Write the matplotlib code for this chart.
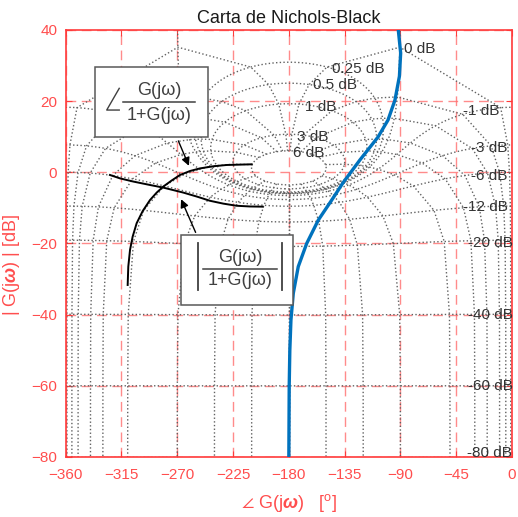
import numpy as np
import matplotlib
matplotlib.use("Agg")
import matplotlib.pyplot as plt
from matplotlib.patches import Rectangle

plt.rcParams['font.family'] = ['Liberation Sans', 'DejaVu Sans']
plt.rcParams['mathtext.fontset'] = 'custom'
plt.rcParams['mathtext.rm'] = 'Liberation Sans'
plt.rcParams['mathtext.it'] = 'Liberation Sans:italic'
plt.rcParams['mathtext.bf'] = 'Liberation Sans:bold'
plt.rcParams['mathtext.bfit'] = 'Liberation Sans:italic:bold'
plt.rcParams['mathtext.fallback'] = 'stixsans'

# open loop G(jw)
fase_G = [-180, -179.7, -179.2, -178.3, -176.4, -172.4, -165.6, -156.2, -145.4,
          -136.4, -122.6, -108.1, -100, -94.4, -90.8, -89.8, -91.7]
gan_G = [-80, -60, -50, -41.5, -34, -26.5, -20, -13.4, -7.8,
         -3.0, 3.5, 9.9, 14.7, 20.3, 27, 33.5, 40]

# closed loop curves (black)
fase_ang = [-310.0, -309.5, -308.1, -306.0, -302.75, -297.9, -292.0, -286.6, -281.25,
            -274.5, -267.8, -259.7, -251.7, -240.9, -230.2, -210.0]
gan_ang = [-31.66, -26.5, -21.8, -18.1, -14.3, -10.9, -7.8, -5.7, -4.0,
           -2.3, -0.75, 0.37, 1.1, 1.7, 2.06, 2.25]
fase_mod = [-324.3, -316.2, -305.4, -292.0, -281.25, -265.1, -254.35, -243.6,
            -232.85, -222.1, -211.3, -201.1]
gan_mod = [-0.75, -1.7, -2.6, -3.56, -4.3, -5.7, -6.8, -8.0, -8.8, -9.4, -9.6, -9.65]

# nichols grid values (closed loop)
m_db = [6, 3, 1, 0.5, 0.25, 0, -1, -3, -6, -12, -20, -40, -60, -80, -100, -120]
n_deg = [-1, -5, -10, -20, -30, -50, -90, -120, -150, -180]
m_lab = ['6 dB', '3 dB', '1 dB', '0.5 dB', '0.25 dB', '0 dB',
         '-1 dB', '-3 dB', '-6 dB', '-12 dB', '-20 dB', '-40 dB', '-60 dB', '-80 dB']
m_lab_x = [-176.9, -173.2, -166.9, -160.3, -145.4, -86.9,
           -39.8, -33.3, -33.3, -39.3, -35.2, -35.2, -35.2, -36.2]
m_lab_y = [5.5, 9.85, 18.4, 24.5, 29.0, 34.7,
           17.2, 6.9, -1.0, -9.8, -20, -40, -60, -79]

rojo = '#ff3b3b'
gris = '0.38'
txt = '0.25'

fig = plt.figure(figsize=(5.18, 5.17), dpi=100)
ax = fig.add_axes([0.1268, 0.1161, 0.8616, 0.8259])

# M contours
x = np.linspace(-360, 0, 1441)
y = np.linspace(-80, 40, 961)
X, Y = np.meshgrid(x, y)
G = 10 ** (Y / 20) * np.exp(1j * np.deg2rad(X))
with np.errstate(divide='ignore', invalid='ignore'):
    T = 20 * np.log10(np.abs(G) / np.abs(1 + G))
T = np.nan_to_num(T, nan=100, posinf=100)
ax.contour(X, Y, T, levels=sorted(m_db[:14]), colors=gris, linestyles=':', linewidths=1.0)

# N lines, through the M values only
m = 10 ** (np.array(m_db) / 20)
for psi in n_deg:
    Tc = m * np.exp(1j * np.deg2rad(psi))
    Gc = Tc / (1 - Tc)
    ph = np.rad2deg(np.angle(Gc))
    if psi == -180:
        ph = np.full_like(ph, -180.0)
    g = 20 * np.log10(np.abs(Gc))
    ax.plot(ph, g, ':', color=gris, lw=1.0)
    ax.plot(-360 - ph, g, ':', color=gris, lw=1.0)

for t, xx, yy in zip(m_lab, m_lab_x, m_lab_y):
    ax.text(xx, yy, t, fontsize=11, color='0.2', ha='left', va='center')

ax.plot(fase_G, gan_G, color='#0072BD', lw=2.4, zorder=5)
ax.plot(fase_ang, gan_ang, color='k', lw=1.4, zorder=5)
ax.plot(fase_mod, gan_mod, color='k', lw=1.4, zorder=5)

# box: phase of closed loop
ax.add_patch(Rectangle((-336.4, 9.9), 91.2, 19.7, facecolor='white',
                       edgecolor='0.35', lw=1.1, zorder=6))
ax.plot([-316.8, -326.9, -316.8], [23.6, 17.5, 17.5], color=txt, lw=1.0, zorder=7)
ax.plot([-313.5, -255.7], [19.85, 19.85], color=txt, lw=1.1, zorder=7)
ax.text(-284.7, 22.9, 'G(jω)', fontsize=13, ha='center', va='center', color=txt, zorder=7)
ax.text(-284.7, 16.1, '1+G(jω)', fontsize=13, ha='center', va='center', color=txt, zorder=7)

# box: magnitude of closed loop
ax.add_patch(Rectangle((-267.2, -37.3), 90.8, 19.7, facecolor='white',
                       edgecolor='0.35', lw=1.1, zorder=6))
ax.plot([-253.0, -253.0], [-19.9, -33.1], color=txt, lw=1.3, zorder=7)
ax.plot([-185.8, -185.8], [-19.9, -33.1], color=txt, lw=1.3, zorder=7)
ax.plot([-249.0, -189.8], [-27.17, -27.17], color=txt, lw=1.1, zorder=7)
ax.text(-219.4, -23.9, 'G(jω)', fontsize=13, ha='center', va='center', color=txt, zorder=7)
ax.text(-219.4, -30.4, '1+G(jω)', fontsize=13, ha='center', va='center', color=txt, zorder=7)

ax.annotate('', xy=(-259.7, 1.1), xytext=(-270, 9.55),
            arrowprops=dict(arrowstyle='-|>', color='k', lw=1.0, mutation_scale=12), zorder=8)
ax.annotate('', xy=(-267.8, -6.85), xytext=(-254.3, -17.6),
            arrowprops=dict(arrowstyle='-|>', color='k', lw=1.0, mutation_scale=12), zorder=8)

ax.set_xlim(-360, 0)
ax.set_ylim(-80, 40)
ax.set_xticks(np.arange(-360, 1, 45))
ax.set_yticks(np.arange(-80, 41, 20))
ax.grid(True, color='#ff6e6e', linestyle=(0, (7, 4)), lw=1.0, alpha=0.8)
ax.tick_params(direction='in', top=True, right=True, colors=rojo, labelsize=11,
               length=4, labelcolor='#ff4d4d')
ax.tick_params(axis='x', pad=8)
ax.tick_params(axis='y', pad=6)
for s in ax.spines.values():
    s.set_color(rojo)
    s.set_linewidth(1.2)

ax.set_title('Carta de Nichols-Black', fontsize=13, color='0.1', pad=5)
ax.set_xlabel(r'$\angle$ G(j$\boldsymbol{\omega}$)   [$^{\mathrm{o}}$]', fontsize=13,
              color='#ff4d4d', labelpad=7)
ax.set_ylabel(r'| G(j$\boldsymbol{\omega}$) | [dB]', fontsize=13, color='#ff4d4d')
ax.yaxis.set_label_coords(-0.098, 0.45)

fig.savefig('out.png', dpi=100)
